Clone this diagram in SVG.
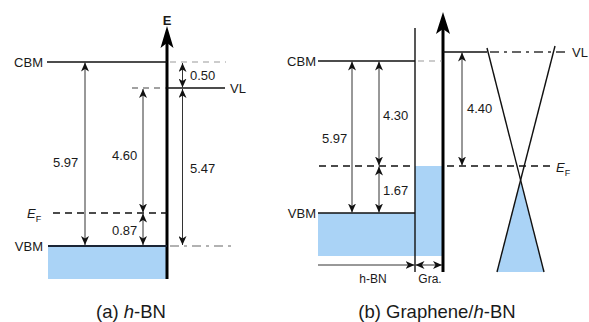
<svg xmlns="http://www.w3.org/2000/svg" width="589" height="322" viewBox="0 0 589 322">
<defs>
<marker id="ah" markerUnits="userSpaceOnUse" markerWidth="10" markerHeight="8" refX="9" refY="4" orient="auto-start-reverse" viewBox="0 0 10 8"><path d="M0,0 L9,4 L0,8 L2.5,4 z" fill="#111"/></marker>
</defs>
<style>
text{font-family:"Liberation Sans",Arial,sans-serif;fill:#1a1a1a;font-size:13px}
.lvl{stroke:#111;stroke-width:1.4;fill:none}
.axis{stroke:#000;stroke-width:3;fill:none}
.gd{stroke:#999;stroke-width:1.2;stroke-dasharray:6 5;fill:none}
.dd{stroke:#444;stroke-width:1.2;stroke-dasharray:6 5;fill:none}
.dash-dot{stroke:#666;stroke-width:1.2;stroke-dasharray:9 5 3 5;fill:none}
.bd{stroke:#111;stroke-width:1.6;stroke-dasharray:7 5;fill:none}
.arr{stroke:#333;stroke-width:1;fill:none;marker-start:url(#ah);marker-end:url(#ah)}
.arr1{stroke:#333;stroke-width:1;fill:none;marker-end:url(#ah)}
.blue{fill:#aad3f6}
.cap{font-size:18.5px}
.sm{font-size:12px}
</style>

<g id="panel-a">
  <g id="a-fill"><rect class="blue" x="48" y="246" width="119" height="33"/></g>
  <g id="a-axis">
    <line class="axis" x1="167" y1="279" x2="167" y2="40"/>
    <path d="M167,26 L173.5,48 L167,43 L160.5,48 z" fill="#000"/>
    <text x="167" y="25" text-anchor="middle" font-weight="bold" font-size="14">E</text>
  </g>
  <g id="a-cbm">
    <line class="lvl" x1="47" y1="62" x2="167" y2="62"/>
    <line class="gd" x1="170" y1="62" x2="226" y2="62"/>
    <text x="43" y="67" text-anchor="end">CBM</text>
  </g>
  <g id="a-vl">
    <line class="dd" x1="132" y1="88" x2="166" y2="88"/>
    <line class="lvl" x1="167" y1="88" x2="225" y2="88"/>
    <text x="230" y="93">VL</text>
  </g>
  <g id="a-ef">
    <line class="bd" x1="53" y1="213" x2="167" y2="213"/>
    <text x="27" y="218"><tspan font-style="italic">E</tspan><tspan font-size="9" dy="4">F</tspan></text>
  </g>
  <g id="a-vbm">
    <line stroke="#1a2535" stroke-width="2" x1="48" y1="246" x2="167" y2="246"/>
    <line class="dash-dot" x1="170" y1="246" x2="232" y2="246"/>
    <text x="43" y="251" text-anchor="end">VBM</text>
  </g>
  <g id="a-connectors">
    <line class="arr" x1="85" y1="62.5" x2="85" y2="245"/>
    <line class="arr" x1="143" y1="89" x2="143" y2="212.5"/>
    <line class="arr" x1="143" y1="213.5" x2="143" y2="245"/>
    <line class="arr" x1="182.5" y1="63" x2="182.5" y2="87.5"/>
    <line class="arr" x1="182.5" y1="89" x2="182.5" y2="245"/>
  </g>
  <g id="a-labels">
    <text x="53" y="167">5.97</text>
    <text x="112" y="160">4.60</text>
    <text x="112" y="235">0.87</text>
    <text x="190" y="80">0.50</text>
    <text x="190" y="173">5.47</text>
  </g>
  <text class="cap" x="131" y="318" text-anchor="middle">(a) <tspan font-style="italic">h</tspan>-BN</text>
</g>

<g id="panel-b">
  <g id="b-fill">
    <rect class="blue" x="318" y="213" width="97" height="43"/>
    <rect class="blue" x="415" y="166" width="28" height="90"/>
    <polygon class="blue" points="520.6,180.6 544,272 497,272"/>
  </g>
  <g id="b-axis">
    <line stroke="#111" stroke-width="1.4" x1="415" y1="28" x2="415" y2="272"/>
    <line class="axis" x1="443" y1="272" x2="443" y2="28"/>
    <path d="M443,12 L450,34 L443,29 L436,34 z" fill="#000"/>
  </g>
  <g id="b-cbm">
    <line class="lvl" x1="318" y1="61" x2="415" y2="61"/>
    <line class="gd" x1="418" y1="61" x2="442" y2="61"/>
    <text x="316" y="66" text-anchor="end">CBM</text>
  </g>
  <g id="b-vbm">
    <line class="lvl" x1="318" y1="213" x2="415" y2="213"/>
    <text x="316" y="218" text-anchor="end">VBM</text>
  </g>
  <g id="b-vl">
    <line class="lvl" x1="443" y1="52" x2="487" y2="52"/>
    <line stroke="#333" stroke-width="1.3" stroke-dasharray="9 5 3 5" x1="490" y1="52" x2="568" y2="52"/>
    <text x="572" y="57">VL</text>
  </g>
  <g id="b-ef">
    <line class="bd" x1="319" y1="166" x2="415" y2="166"/>
    <line class="bd" x1="447" y1="166" x2="550" y2="166"/>
    <text x="556" y="172"><tspan font-style="italic">E</tspan><tspan font-size="9" dy="4">F</tspan></text>
  </g>
  <g id="b-cone">
    <line stroke="#111" stroke-width="1.4" x1="487" y1="48" x2="544" y2="272"/>
    <line stroke="#111" stroke-width="1.4" x1="555" y1="46" x2="497" y2="272"/>
  </g>
  <g id="b-connectors">
    <line class="arr" x1="352" y1="61.5" x2="352" y2="212.5"/>
    <line class="arr" x1="379" y1="61.5" x2="379" y2="165.5"/>
    <line class="arr" x1="379" y1="166.5" x2="379" y2="212.5"/>
    <line class="arr" x1="462" y1="52.5" x2="462" y2="165.5"/>
    <line class="arr1" x1="318" y1="265" x2="414.5" y2="265"/>
    <line class="arr" x1="415.5" y1="265" x2="442" y2="265"/>
  </g>
  <g id="b-labels">
    <text x="322" y="143">5.97</text>
    <text x="383" y="120">4.30</text>
    <text x="383" y="195">1.67</text>
    <text x="467" y="113">4.40</text>
    <text class="sm" x="373" y="283" text-anchor="middle">h-BN</text>
    <text class="sm" x="430" y="283" text-anchor="middle">Gra.</text>
  </g>
  <text class="cap" x="437" y="318" text-anchor="middle">(b) Graphene/<tspan font-style="italic">h</tspan>-BN</text>
</g>
</svg>
